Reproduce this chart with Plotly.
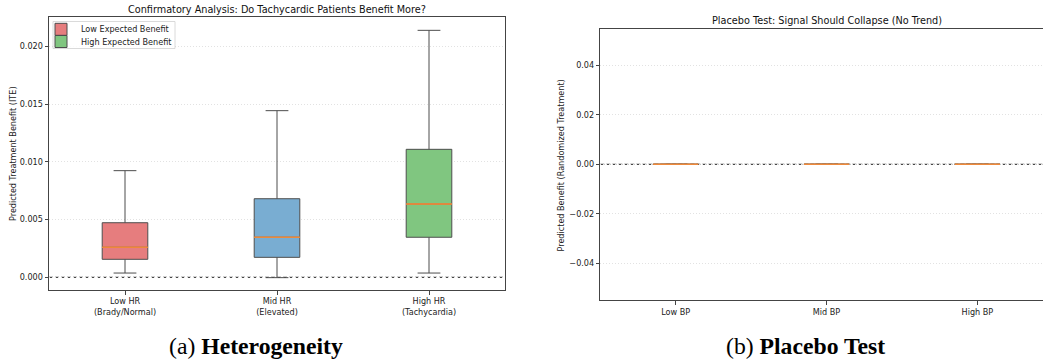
import plotly.graph_objects as go

# ---------------- data ----------------
hr_categories = ["Low HR<br>(Brady/Normal)", "Mid HR<br>(Elevated)", "High HR<br>(Tachycardia)"]
hr_lowerfence = [0.00037, -0.00003, 0.00037]
hr_q1 = [0.00156, 0.00173, 0.00347]
hr_median = [0.00260, 0.00347, 0.00635]
hr_q3 = [0.00473, 0.00681, 0.01109]
hr_upperfence = [0.00924, 0.01444, 0.02140]
hr_legend_names = ["Low Expected Benefit", None, "High Expected Benefit"]

bp_categories = ["Low BP", "Mid BP", "High BP"]
bp_lowerfence = [0.0, 0.0, 0.0]
bp_q1 = [0.0, 0.0, 0.0]
bp_median = [0.0, 0.0, 0.0]
bp_q3 = [0.0, 0.0, 0.0]
bp_upperfence = [0.0, 0.0, 0.0]

left_yticks = [0.0, 0.005, 0.010, 0.015, 0.020]
left_yticktext = ["0.000", "0.005", "0.010", "0.015", "0.020"]
right_yticks = [-0.04, -0.02, 0.0, 0.02, 0.04]
right_yticktext = ["\u22120.04", "\u22120.02", "0.00", "0.02", "0.04"]

# ---------------- style ----------------
W, H = 1043, 360
FILLS = ["#E67D7E", "#79ADD2", "#80C680"]
EDGE = "#4d4d4d"
MEDIAN = "#F08A3A"
AXC = "#444444"
FONT = "DejaVu Sans"
BOXW = 0.3
LEGEND_KEYS = ["legend", None, "legend2"]

def px_x(p):
    return p / W

def px_y(p):
    return 1 - p / H

fig = go.Figure()

# left panel boxes
for i, cat in enumerate(hr_categories):
    name = hr_legend_names[i]
    kw = {}
    if LEGEND_KEYS[i]:
        kw["legend"] = LEGEND_KEYS[i]
    fig.add_trace(go.Box(
        x=[cat], q1=[hr_q1[i]], median=[hr_median[i]], q3=[hr_q3[i]],
        lowerfence=[hr_lowerfence[i]], upperfence=[hr_upperfence[i]],
        boxpoints=False, width=BOXW, whiskerwidth=0.5,
        fillcolor=FILLS[i], line=dict(color=EDGE, width=1),
        name=name if name else "Mid", showlegend=name is not None,
        hoverinfo="skip", xaxis="x", yaxis="y", **kw))
    fig.add_trace(go.Box(
        x=[cat], q1=[hr_median[i]], median=[hr_median[i]], q3=[hr_median[i]],
        lowerfence=[hr_median[i]], upperfence=[hr_median[i]],
        boxpoints=False, width=BOXW, whiskerwidth=0,
        fillcolor="rgba(0,0,0,0)", line=dict(color=MEDIAN, width=1),
        showlegend=False, hoverinfo="skip", xaxis="x", yaxis="y"))

# right panel boxes
for i, cat in enumerate(bp_categories):
    fig.add_trace(go.Box(
        x=[cat], q1=[bp_q1[i]], median=[bp_median[i]], q3=[bp_q3[i]],
        lowerfence=[bp_lowerfence[i]], upperfence=[bp_upperfence[i]],
        boxpoints=False, width=BOXW, whiskerwidth=0.5,
        fillcolor="rgba(0,0,0,0)", line=dict(color=EDGE, width=1),
        showlegend=False, hoverinfo="skip", xaxis="x2", yaxis="y2"))
    fig.add_trace(go.Box(
        x=[cat], q1=[bp_median[i]], median=[bp_median[i]], q3=[bp_median[i]],
        lowerfence=[bp_median[i]], upperfence=[bp_median[i]],
        boxpoints=False, width=BOXW, whiskerwidth=0,
        fillcolor="rgba(0,0,0,0)", line=dict(color=MEDIAN, width=1.5),
        showlegend=False, hoverinfo="skip", xaxis="x2", yaxis="y2"))

tickfont = dict(family=FONT, size=8.1, color="#222")
grid = dict(showgrid=True, gridcolor="#e2e2e2", gridwidth=0.6, griddash="1px,2px")
legfont = dict(family=FONT, size=8.1, color="#222")

fig.update_layout(
    width=W, height=H,
    margin=dict(l=0, r=0, t=0, b=0),
    paper_bgcolor="white", plot_bgcolor="white",
    boxmode="overlay",
    font=dict(family=FONT, size=8, color="#222"),
    showlegend=True,
    legend=dict(x=px_x(41), y=px_y(29.3), xanchor="left", yanchor="middle",
                bgcolor="rgba(0,0,0,0)", borderwidth=0, font=legfont),
    legend2=dict(x=px_x(41), y=px_y(41.5), xanchor="left", yanchor="middle",
                 bgcolor="rgba(0,0,0,0)", borderwidth=0, font=legfont),
    xaxis=dict(domain=[px_x(49), px_x(505)], anchor="y", type="category",
               range=[-0.5, 2.5], showline=True, linecolor=AXC, linewidth=1, mirror=True,
               ticks="outside", ticklen=3.5, tickwidth=0.8, tickcolor=AXC,
               tickfont=tickfont, showgrid=False, zeroline=False),
    yaxis=dict(domain=[px_y(290), px_y(17.3)], anchor="x",
               range=[-0.0011, 0.02253], tickvals=left_yticks, ticktext=left_yticktext,
               showline=True, linecolor=AXC, linewidth=1, mirror=True,
               ticks="outside", ticklen=3.5, tickwidth=0.8, tickcolor=AXC,
               tickfont=tickfont, zeroline=False, **grid),
    xaxis2=dict(domain=[px_x(600.3), 1.0], anchor="y2", type="category",
                range=[-0.5, 2.435], showline=True, linecolor=AXC, linewidth=1, mirror=True,
                ticks="outside", ticklen=3.5, tickwidth=0.8, tickcolor=AXC,
                tickfont=tickfont, showgrid=False, zeroline=False),
    yaxis2=dict(domain=[px_y(300.3), px_y(29.3)], anchor="x2",
                range=[-0.0551, 0.0547], tickvals=right_yticks, ticktext=right_yticktext,
                showline=True, linecolor=AXC, linewidth=1, mirror=False,
                ticks="outside", ticklen=3.5, tickwidth=0.8, tickcolor=AXC,
                tickfont=tickfont, zeroline=False, **grid),
)

# zero reference lines
fig.add_shape(type="line", xref="x domain", yref="y", x0=0, x1=1, y0=0, y1=0,
              line=dict(color="black", width=0.9, dash="4px,2px"), layer="below")
fig.add_shape(type="line", xref="x2 domain", yref="y2", x0=0, x1=1, y0=0, y1=0,
              line=dict(color="black", width=0.9, dash="4px,2px"), layer="below")
# legend frame
fig.add_shape(type="rect", xref="paper", yref="paper",
              x0=px_x(53), x1=px_x(175), y0=px_y(48.5), y1=px_y(21.5),
              line=dict(color="#d0d0d0", width=0.8), fillcolor="rgba(255,255,255,0.85)",
              layer="above")

annotations = [
    dict(text="Confirmatory Analysis: Do Tachycardic Patients Benefit More?",
         x=px_x(277), y=px_y(9.5), xref="paper", yref="paper", showarrow=False,
         xanchor="center", yanchor="middle", font=dict(family=FONT, size=9.7, color="#111")),
    dict(text="Placebo Test: Signal Should Collapse (No Trend)",
         x=px_x(826.5), y=px_y(20), xref="paper", yref="paper", showarrow=False,
         xanchor="center", yanchor="middle", font=dict(family=FONT, size=9.7, color="#111")),
    dict(text="Predicted Treatment Benefit (ITE)", textangle=-90,
         x=px_x(13), y=px_y(154), xref="paper", yref="paper", showarrow=False,
         xanchor="center", yanchor="middle", font=dict(family=FONT, size=8.1, color="#222")),
    dict(text="Predicted Benefit (Randomized Treatment)", textangle=-90,
         x=px_x(561), y=px_y(165.5), xref="paper", yref="paper", showarrow=False,
         xanchor="center", yanchor="middle", font=dict(family=FONT, size=8.1, color="#222")),
    dict(text="(a) <b>Heterogeneity</b>",
         x=px_x(256), y=px_y(346), xref="paper", yref="paper", showarrow=False,
         xanchor="center", yanchor="middle",
         font=dict(family="Liberation Serif", size=23.7, color="black")),
    dict(text="(b) <b>Placebo Test</b>",
         x=px_x(805), y=px_y(346), xref="paper", yref="paper", showarrow=False,
         xanchor="center", yanchor="middle",
         font=dict(family="Liberation Serif", size=23.7, color="black")),
]
fig.update_layout(annotations=annotations)

fig.write_html("out.html")
